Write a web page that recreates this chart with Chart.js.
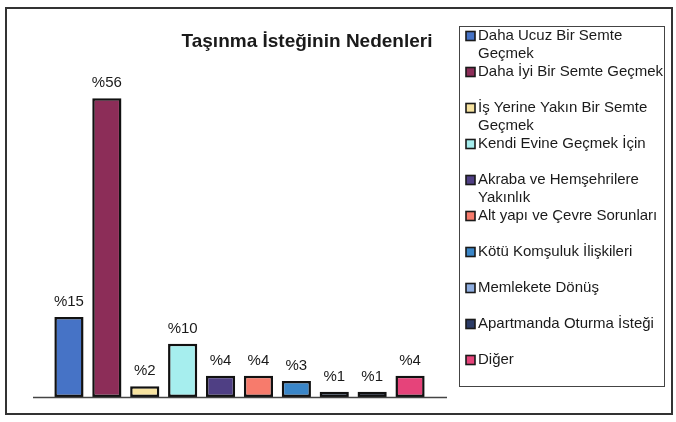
<!DOCTYPE html>
<html>
<head>
<meta charset="utf-8">
<script src="https://cdn.jsdelivr.net/npm/chart.js@4"></script>
<style>
    body { margin: 0; background: #fff; }
    #kutu { width: 676px; height: 422px; }
</style>
</head>
<body>
<div id="kutu"><canvas id="grafik"></canvas></div>
<script>
var baslik = "Taşınma İsteğinin Nedenleri";
var nedenler = [
    ["Daha Ucuz Bir Semte", "Geçmek"],
    "Daha İyi Bir Semte Geçmek",
    ["İş Yerine Yakın Bir Semte", "Geçmek"],
    "Kendi Evine Geçmek İçin",
    ["Akraba ve Hemşehrilere", "Yakınlık"],
    "Alt yapı ve Çevre Sorunları",
    "Kötü Komşuluk İlişkileri",
    "Memlekete Dönüş",
    "Apartmanda Oturma İsteği",
    "Diğer"
];
var yuzdeler = [15, 56, 2, 10, 4, 4, 3, 1, 1, 4];
var renkler = ["#4673c6", "#8c2d58", "#f7e3a0", "#a6eeee", "#4f3f84",
               "#f77b6c", "#3a86c8", "#8faee0", "#2b3b66", "#e6437a"];

var yazi = "Arial, 'Liberation Sans', sans-serif";

// cerceve, baslik, degerler ve lejant burada ciziliyor
var cizimler = {
    id: "cizimler",
    afterDatasetsDraw: function(chart) {
        var ctx = chart.ctx;
        var alan = chart.chartArea;
        ctx.save();

        // dis cerceve
        ctx.strokeStyle = "#333";
        ctx.lineWidth = 2;
        ctx.strokeRect(6, 8, 666, 406);

        // x ekseni cizgisi
        ctx.lineWidth = 1.3;
        ctx.strokeStyle = "#444";
        ctx.beginPath();
        ctx.moveTo(alan.left - 17, alan.bottom + 0.5);
        ctx.lineTo(alan.right + 18, alan.bottom + 0.5);
        ctx.stroke();

        // baslik
        ctx.fillStyle = "#1a1a1a";
        ctx.font = "bold 19px " + yazi;
        ctx.textAlign = "center";
        ctx.textBaseline = "middle";
        ctx.fillText(baslik, 307, 42);

        // sutun degerleri
        ctx.font = "15px " + yazi;
        var meta = chart.getDatasetMeta(0);
        for (var i = 0; i < meta.data.length; i++) {
            var b = meta.data[i];
            ctx.fillText("%" + yuzdeler[i], b.x, b.y - 15);
        }

        // lejant
        ctx.lineWidth = 1;
        ctx.strokeStyle = "#444";
        ctx.strokeRect(459.5, 26.5, 205, 360);
        ctx.textAlign = "left";
        ctx.font = "15px " + yazi;
        for (var i = 0; i < nedenler.length; i++) {
            var y = 36 + 36 * i;
            ctx.fillStyle = renkler[i];
            ctx.fillRect(466, y - 4.5, 9, 9);
            ctx.strokeStyle = "#1a1a1a";
            ctx.lineWidth = 1.6;
            ctx.strokeRect(466, y - 4.5, 9, 9);
            ctx.fillStyle = "#1a1a1a";
            var satirlar = Array.isArray(nedenler[i]) ? nedenler[i] : [nedenler[i]];
            for (var s = 0; s < satirlar.length; s++) {
                ctx.fillText(satirlar[s], 478, y + 18 * s);
            }
        }
        ctx.restore();
    }
};

var ctx = document.getElementById("grafik").getContext("2d");
var grafik = new Chart(ctx, {
    type: "bar",
    data: {
        labels: nedenler,
        datasets: [{
            data: yuzdeler,
            backgroundColor: renkler,
            borderColor: "#111",
            borderWidth: 2.5,
            borderSkipped: false,
            barPercentage: 0.77,
            categoryPercentage: 1
        }]
    },
    options: {
        responsive: true,
        maintainAspectRatio: false,
        animation: false,
        layout: { padding: { left: 50, right: 247, top: 77, bottom: 25 } },
        plugins: {
            legend: { display: false },
            title: { display: false },
            tooltip: { enabled: false }
        },
        scales: {
            x: { display: false },
            y: { display: false, min: 0, max: 60 }
        }
    },
    plugins: [cizimler]
});
</script>
</body>
</html>
